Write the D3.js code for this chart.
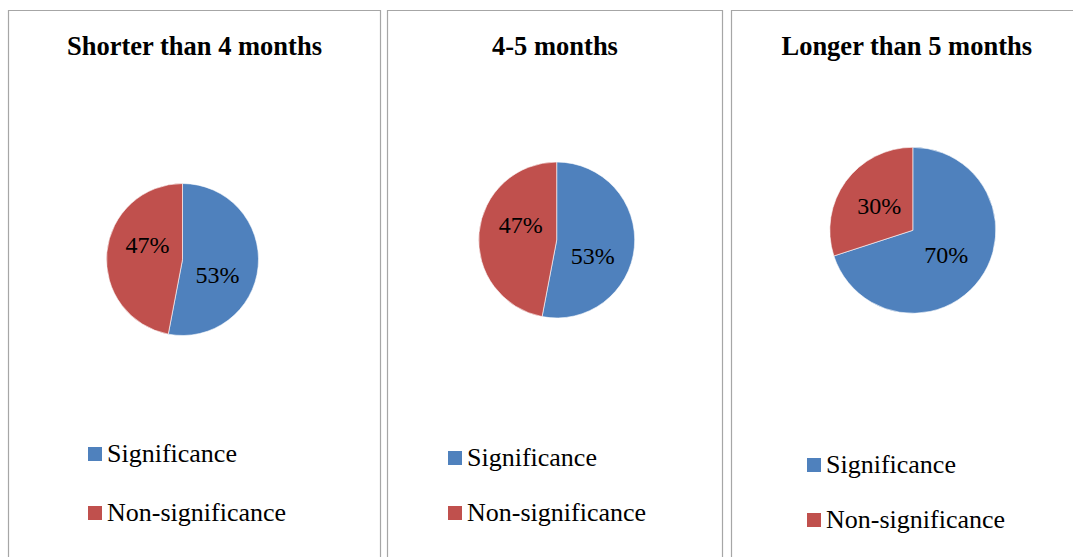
<!DOCTYPE html>
<html>
<head>
<meta charset="utf-8">
<script src="https://cdn.jsdelivr.net/npm/d3@7"></script>
<style>
  html, body { margin: 0; padding: 0; background: #fff; }
  svg { display: block; }
</style>
</head>
<body>
<svg id="chart" width="1073" height="557"></svg>
<script>
// ---- data ----
const panelTitles = ["Shorter than 4 months", "4-5 months", "Longer than 5 months"];
const categories = ["Significance", "Non-significance"];
const significance = [53, 53, 70];
const nonSignificance = [47, 47, 30];
const colors = ["#4F81BD", "#C0504D"];

// ---- layout (style, not data) ----
const layout = [
  { x0: 8.5,   x1: 380.5, cx: 182.5, cy: 259.5, r: 76,  legX: 88,  legY: [447, 506] },
  { x0: 387.5, x1: 722.5, cx: 556.7, cy: 240,   r: 78,  legX: 448, legY: [451, 506] },
  { x0: 731.5, x1: 1082,  cx: 912.8, cy: 230.3, r: 83,  legX: 807, legY: [458, 513] }
];
const FONT = '"Liberation Serif"';

const svg = d3.select("#chart");
const color = d3.scaleOrdinal().domain(categories).range(colors);
const pie = d3.pie().sort(null).value(d => d.value).startAngle(0).endAngle(2 * Math.PI);

panelTitles.forEach((title, i) => {
  const L = layout[i];
  const g = svg.append("g");

  // panel frame
  g.append("path")
    .attr("d", `M${L.x0},570 V10.5 H${L.x1} V570`)
    .attr("fill", "none")
    .attr("stroke", "#a6a6a6")
    .attr("stroke-width", 1.2);

  // title
  g.append("text")
    .attr("x", (L.x0 + L.x1) / 2)
    .attr("y", 55)
    .attr("text-anchor", "middle")
    .style("font-family", FONT)
    .style("font-weight", "bold")
    .style("font-size", "26.5px")
    .attr("fill", "#000")
    .text(title);

  const values = [
    { cat: categories[0], value: significance[i] },
    { cat: categories[1], value: nonSignificance[i] }
  ];
  const arcs = pie(values);
  const arc = d3.arc().innerRadius(0).outerRadius(L.r);

  const pg = g.append("g").attr("transform", `translate(${L.cx},${L.cy})`);
  pg.selectAll("path.slice")
    .data(arcs)
    .join("path")
    .attr("class", "slice")
    .attr("d", arc)
    .attr("fill", d => color(d.data.cat))
    .attr("stroke", "#ffffff")
    .attr("stroke-width", 0.6);

  // label placement: mid angle, nudged clockwise for near-even splits (best-fit style)
  const total = d3.sum(values, d => d.value);
  pg.selectAll("text.lbl")
    .data(arcs)
    .join("text")
    .attr("class", "lbl")
    .each(function (d) {
      const p = d.data.value / total;
      const shift = 0.38 * Math.max(0, 1 - Math.abs(p - 0.5) / 0.15);
      const a = (d.startAngle + d.endAngle) / 2 + shift;
      const rr = L.r * 0.5;
      d3.select(this)
        .attr("x", rr * Math.sin(a))
        .attr("y", -rr * Math.cos(a));
    })
    .attr("text-anchor", "middle")
    .attr("dy", "0.35em")
    .style("font-family", FONT)
    .style("font-size", "24px")
    .attr("fill", "#000")
    .text(d => `${d.data.value}%`);

  // legend
  const lg = g.append("g");
  categories.forEach((c, k) => {
    lg.append("rect")
      .attr("x", L.legX)
      .attr("y", L.legY[k])
      .attr("width", 14)
      .attr("height", 14)
      .attr("fill", color(c));
    lg.append("text")
      .attr("x", L.legX + 19)
      .attr("y", L.legY[k] + 15)
      .style("font-family", FONT)
      .style("font-size", "26px")
      .attr("fill", "#000")
      .text(c);
  });
});
</script>
</body>
</html>
